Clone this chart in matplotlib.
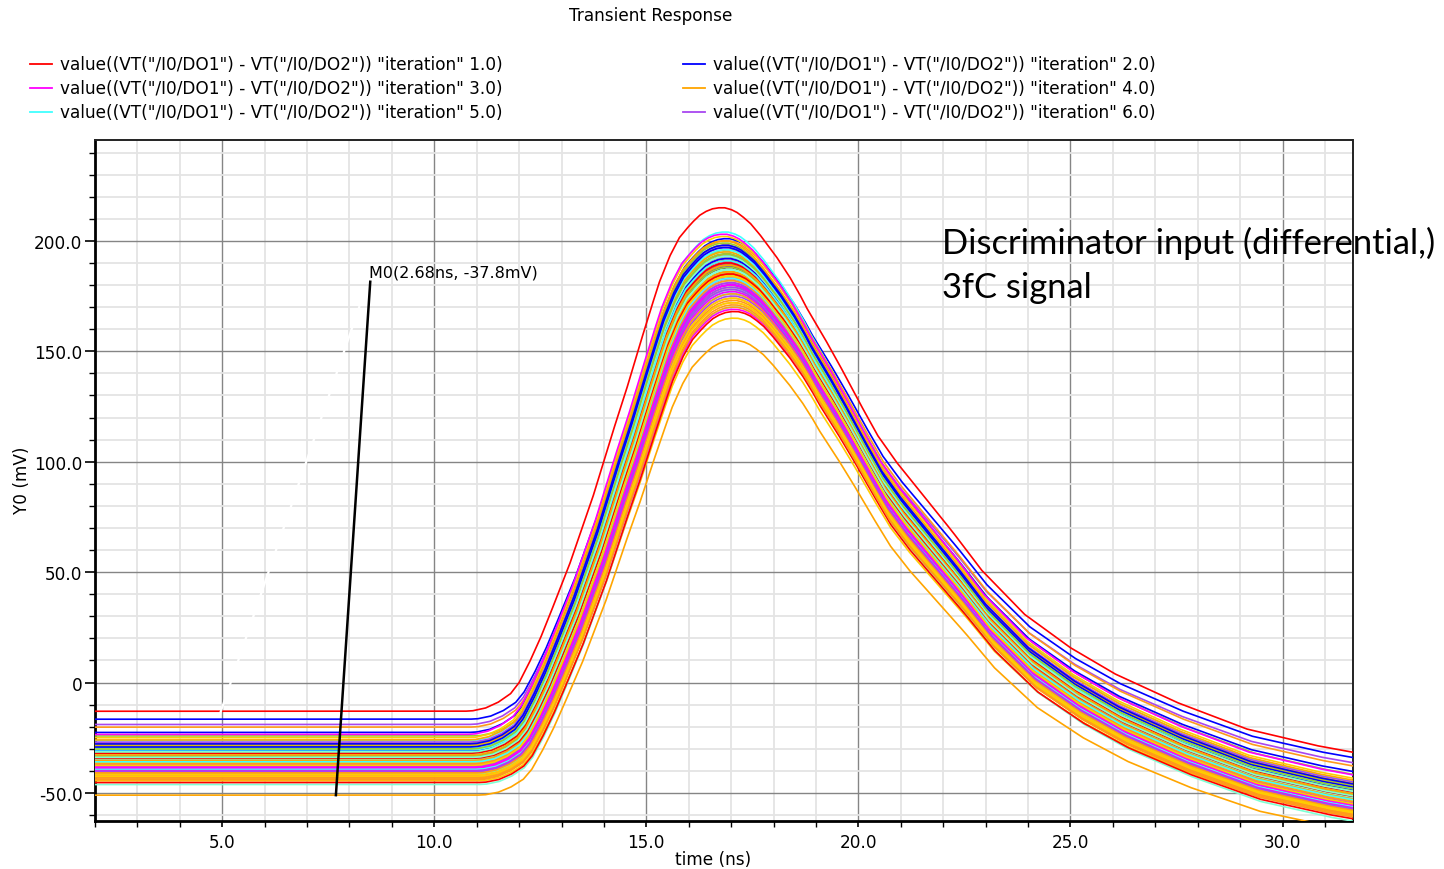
import numpy as np
import matplotlib
matplotlib.use("Agg")
import matplotlib.pyplot as plt
from matplotlib.lines import Line2D
from matplotlib.ticker import MultipleLocator, FixedLocator, FixedFormatter

# ---------------- data ----------------
# pulse of iteration 1 (red curve), digitised: time (ns), value (mV)
tmpl_t = [0.0, 10.7, 10.9, 11.2, 11.5, 11.8, 12.0, 12.24, 12.5, 12.7, 13.18,
          13.73, 14.2, 14.52, 14.83, 15.07, 15.3, 15.55, 15.78, 15.95, 16.09,
          16.25, 16.4, 16.55, 16.7, 16.85, 17.0, 17.13, 17.27, 17.45, 17.67,
          18.06, 18.37, 18.61, 18.77, 19.2, 19.55, 20.02, 20.45, 20.89, 21.52,
          22.23, 22.9, 23.91, 24.98, 26.04, 27.51, 29.15, 30.79, 31.6, 33.0]
tmpl_v = [-13.0, -13.0, -12.8, -11.6, -9.0, -5.0, 0.0, 9.0, 20.0, 29.5, 53.0,
          83.5, 113.0, 132.0, 152.0, 167.0, 181.0, 193.0, 201.5, 205.5, 208.5,
          211.5, 213.3, 214.5, 215.0, 215.0, 214.2, 213.0, 211.0, 208.0, 203.0,
          193.0, 184.0, 176.0, 170.0, 156.0, 144.0, 127.0, 112.0, 100.0, 85.0,
          68.0, 51.0, 31.0, 16.0, 4.0, -9.0, -21.0, -28.5, -31.4, -35.0]

# per-iteration flat baseline (mV), pulse peak (mV) and delay (ns)
baselines = [-13.0, -16.6, -31.0, -51.0, -26.3, -19.0, -24.2, -44.5, -46.2, -20.2,
             -33.5, -22.6, -38.0, -29.3, -41.5, -35.0, -27.5, -31.8, -36.6, -40.0,
             -30.4, -34.2, -42.0, -28.4, -37.2, -32.6, -39.1, -25.0, -35.8, -44.0,
             -31.2, -29.8, -36.0, -33.0, -40.6, -27.0, -38.5, -34.8, -30.0, -42.8,
             -32.2, -37.7, -23.5, -35.4, -39.6, -31.5, -28.8, -41.0, -33.8, -36.3,
             -30.7, -34.5, -38.8, -26.0, -32.9, -40.3, -35.1, -29.0, -37.0, -43.2,
             -31.0, -33.2, -36.9, -28.0, -39.3, -34.0, -30.2, -41.8, -32.4, -35.6,
             -45.3, -30.9, -37.4, -33.6, -29.5, -38.2, -31.6, -36.1, -34.7, -40.9,
             -32.0, -27.8, -39.9, -35.3, -30.5, -37.9, -33.3, -42.4, -31.4, -36.8,
             -34.3, -29.2, -38.4, -32.8, -35.9, -40.1, -30.1, -37.5, -33.9, -43.7]
peaks = [215, 201, 190, 155, 204, 197, 196, 165, 170, 200,
         185, 198, 178, 192, 176, 188, 199, 183, 181, 172,
         194, 186, 169, 196, 184, 190, 179, 202, 187, 174,
         189, 193, 182, 191, 177, 197, 183, 186, 195, 173,
         188, 180, 203, 185, 176, 192, 194, 178, 187, 183,
         190, 189, 181, 200, 186, 175, 184, 198, 182, 171,
         191, 188, 180, 195, 178, 190, 193, 174, 187, 185,
         168, 192, 183, 186, 196, 179, 189, 184, 187, 176,
         190, 198, 177, 186, 191, 181, 188, 172, 193, 182,
         185, 197, 180, 189, 183, 178, 194, 184, 187, 170]
delays = [0.00, 0.12, 0.20, 0.30, 0.08, 0.10, 0.18, 0.30, 0.32, 0.12,
          0.18, 0.10, 0.25, 0.14, 0.26, 0.17, 0.08, 0.22, 0.21, 0.28,
          0.12, 0.19, 0.30, 0.11, 0.20, 0.15, 0.24, 0.06, 0.18, 0.27,
          0.16, 0.13, 0.22, 0.15, 0.25, 0.09, 0.21, 0.19, 0.12, 0.28,
          0.17, 0.23, 0.05, 0.19, 0.26, 0.14, 0.12, 0.24, 0.17, 0.21,
          0.16, 0.16, 0.23, 0.07, 0.19, 0.27, 0.20, 0.09, 0.22, 0.29,
          0.14, 0.18, 0.23, 0.11, 0.25, 0.15, 0.13, 0.27, 0.18, 0.20,
          0.31, 0.14, 0.21, 0.19, 0.10, 0.24, 0.16, 0.20, 0.18, 0.26,
          0.15, 0.09, 0.25, 0.19, 0.14, 0.22, 0.17, 0.28, 0.13, 0.22,
          0.20, 0.10, 0.23, 0.16, 0.21, 0.24, 0.12, 0.20, 0.18, 0.29]

legend_iterations = [1.0, 2.0, 3.0, 4.0, 5.0, 6.0]
marker_text = "M0(2.68ns, -37.8mV)"
marker_x = [7.68, 8.49]
marker_y = [-51.0, 181.5]
white_x = [4.95, 8.23]
white_y = [-14.0, 170.0]

xticks = [5.0, 10.0, 15.0, 20.0, 25.0, 30.0]
xticklabels = ["5.0", "10.0", "15.0", "20.0", "25.0", "30.0"]
yticks = [-50, 0, 50, 100, 150, 200]
yticklabels = ["-50.0", "0", "50.0", "100.0", "150.0", "200.0"]

# ---------------- styles ----------------
palette = ["#ff0000", "#0000ff", "#ff00ff", "#ffa500", "#40ffff",
           "#a846f0", "#9acd32", "#ffcc00", "#7fffd4", "#ff9a1a"]
FONT = "DejaVu Sans"
FS = 12.2

W, H = 1444, 870
fig = plt.figure(figsize=(W / 100, H / 100), dpi=100)
fig.patch.set_facecolor("white")
L, R, T, B = 95, 1352.5, 141, 822
ax = fig.add_axes([L / W, 1 - B / H, (R - L) / W, (B - T) / H])

t = np.linspace(2.0, 32.0, 3001)
tt = np.array(tmpl_t)
tv = np.array(tmpl_v)
shape_base = tv[0]
shape_amp = tv.max() - tv[0]

for i, (b, p, d) in enumerate(zip(baselines, peaks, delays)):
    s = (np.interp(t - d, tt, tv) - shape_base) / shape_amp
    y = b + (p - b) * s
    ax.plot(t, y, color=palette[i % len(palette)], lw=1.2, zorder=3)

ax.plot(white_x, white_y, color="white", lw=1.6, zorder=4)
ax.plot(marker_x, marker_y, color="black", lw=1.8, zorder=5)
ax.text(marker_x[1] - 0.03, marker_y[1] + 1.0, marker_text, fontsize=FS - 0.7,
        family=FONT, ha="left", va="bottom", zorder=6)

ax.set_xlim(2.0, 31.65)
ax.set_ylim(-62.7, 245.7)

ax.xaxis.set_major_locator(FixedLocator(xticks))
ax.xaxis.set_major_formatter(FixedFormatter(xticklabels))
ax.xaxis.set_minor_locator(MultipleLocator(1.0))
ax.yaxis.set_major_locator(FixedLocator(yticks))
ax.yaxis.set_major_formatter(FixedFormatter(yticklabels))
ax.yaxis.set_minor_locator(MultipleLocator(10.0))

ax.grid(which="minor", color="#e4e4e4", lw=1.3, zorder=0)
ax.grid(which="major", color="#858585", lw=1.0, zorder=1)
ax.set_axisbelow(True)

for side in ["left", "bottom"]:
    ax.spines[side].set_linewidth(2.0)
    ax.spines[side].set_color("black")
for side in ["top", "right"]:
    ax.spines[side].set_linewidth(1.4)
    ax.spines[side].set_color("#222222")

ax.tick_params(axis="y", which="major", direction="out", length=7, width=1.2,
               pad=2, labelsize=FS)
ax.tick_params(axis="y", which="minor", direction="out", length=4, width=1.0)
ax.tick_params(axis="x", which="major", direction="out", length=4, width=1.2,
               pad=5, labelsize=FS)
ax.tick_params(axis="x", which="minor", direction="out", length=4, width=1.0)
for lab in ax.get_xticklabels() + ax.get_yticklabels():
    lab.set_family(FONT)

ax.set_xlabel("time (ns)", fontsize=FS, family=FONT)
ax.xaxis.set_label_coords((713 - L) / (R - L), (B - 860) / (B - T))
ax.xaxis.label.set_va("center")
ax.set_ylabel("Y0 (mV)", fontsize=FS, family=FONT)
ax.yaxis.set_label_coords((22 - L) / (R - L), (B - 480) / (B - T))
ax.yaxis.label.set_va("center")

fig.text(651 / W, 1 - 16 / H, "Transient Response", ha="center", va="center",
         fontsize=FS, family=FONT)

# legend (row-wise, two columns)
col_x = [30, 683]
row_y = [65, 89, 113]
for k, it in enumerate(legend_iterations):
    cx = col_x[k % 2]
    ry = row_y[k // 2]
    fig.add_artist(Line2D([cx / W, (cx + 22) / W], [1 - ry / H, 1 - ry / H],
                          color=palette[k], lw=1.3, transform=fig.transFigure))
    fig.text((cx + 30) / W, 1 - ry / H,
             'value((VT("/I0/DO1") - VT("/I0/DO2")) "iteration" %.1f)' % it,
             ha="left", va="center", fontsize=FS, family=FONT)

fig.text(942 / W, 1 - 243 / H, "Discriminator input (differential,)",
         ha="left", va="center", fontsize=24.8, family="Lato")
fig.text(942 / W, 1 - 288 / H, "3fC signal",
         ha="left", va="center", fontsize=24.8, family="Lato")

fig.savefig("out.png", dpi=100, facecolor="white")
